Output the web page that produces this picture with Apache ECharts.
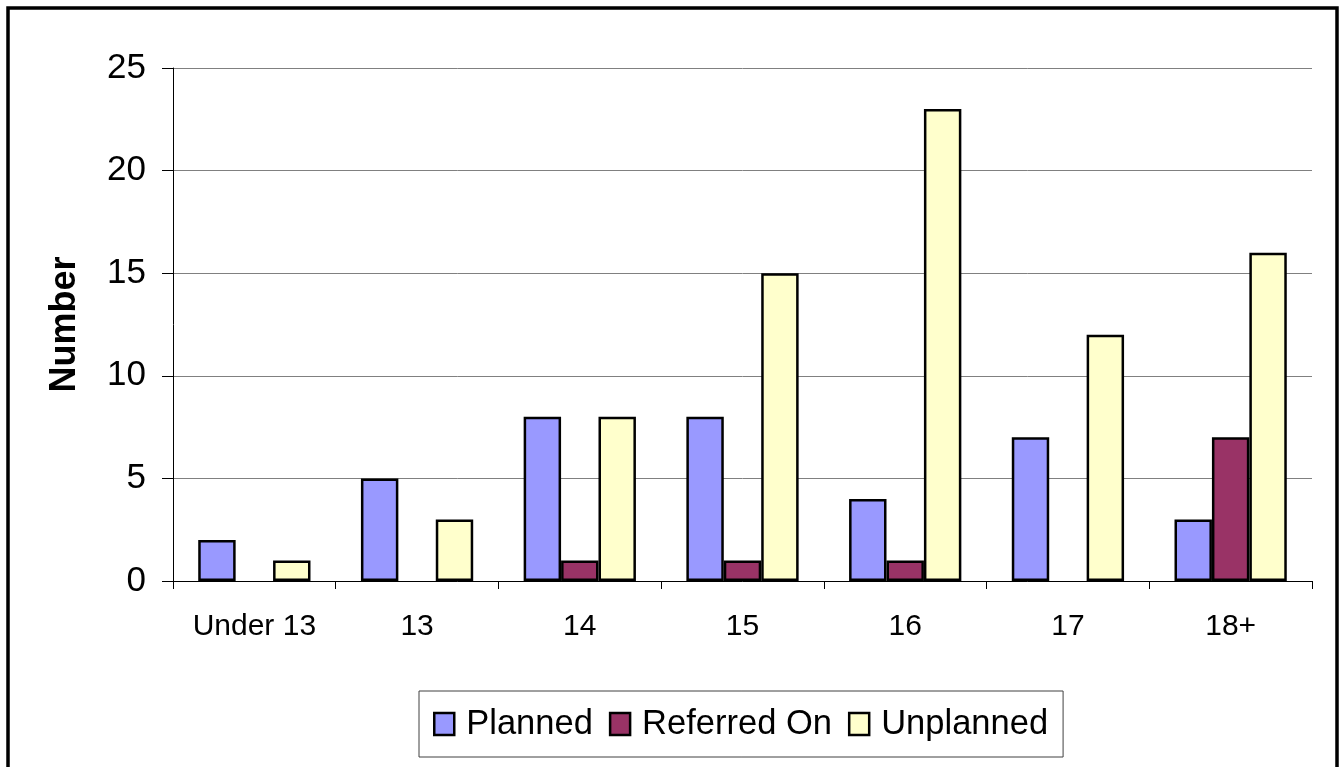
<!DOCTYPE html>
<html>
<head>
<meta charset="utf-8">
<script src="https://cdn.jsdelivr.net/npm/echarts@6/dist/echarts.min.js"></script>
<style>
html,body{margin:0;padding:0;background:#fff;}
#chart{width:1339px;height:767px;}
</style>
</head>
<body>
<div id="chart"></div>
<script>
const categories = ['Under 13', '13', '14', '15', '16', '17', '18+'];
const planned = [2, 5, 8, 8, 4, 7, 3];
const referredOn = [null, null, 1, 1, 1, null, 7];
const unplanned = [1, 3, 8, 15, 23, 12, 16];
const seriesNames = ['Planned', 'Referred On', 'Unplanned'];
const yTicks = [0, 5, 10, 15, 20, 25];

const FONT = '"Liberation Sans", Arial, Helvetica, sans-serif';
const chart = echarts.init(document.getElementById('chart'), null, {renderer: 'canvas'});

function barSeries(name, data, color) {
  return {
    name: name,
    type: 'bar',
    data: data,
    barGap: '0%',
    barCategoryGap: '31%',
    itemStyle: {color: color, borderColor: '#000', borderWidth: 2.5},
    emphasis: {disabled: true}
  };
}

chart.setOption({
  animation: false,
  backgroundColor: '#fff',
  grid: {left: 173, right: 27, top: 68, bottom: 186, containLabel: false},
  graphic: [{
    type: 'rect',
    shape: {x: 8, y: 8, width: 1329, height: 800},
    style: {fill: 'none', stroke: '#000', lineWidth: 3.5},
    silent: true,
    z: 100
  }],
  legend: {
    data: seriesNames,
    left: 419,
    top: 691,
    orient: 'horizontal',
    itemWidth: 20,
    itemHeight: 22,
    itemGap: 16,
    padding: [14, 15, 14, 14],
    borderColor: '#404040',
    borderWidth: 1,
    backgroundColor: '#fff',
    icon: 'rect',
    itemStyle: {borderColor: '#000', borderWidth: 2.5},
    textStyle: {fontFamily: FONT, fontSize: 34.5, color: '#000', padding: [0, 0, 0, 7], lineHeight: 38},
    selectedMode: false
  },
  xAxis: {
    type: 'category',
    data: categories,
    axisLine: {show: true, lineStyle: {color: '#000', width: 1}},
    axisTick: {show: true, length: 8, lineStyle: {color: '#000'}},
    axisLabel: {fontFamily: FONT, fontSize: 30, color: '#000', margin: 31},
    splitLine: {show: false}
  },
  yAxis: {
    type: 'value',
    min: yTicks[0],
    max: yTicks[yTicks.length - 1],
    interval: 5,
    name: 'Number',
    nameLocation: 'middle',
    nameGap: 90,
    nameTextStyle: {fontFamily: FONT, fontSize: 36, fontWeight: 'bold', color: '#000'},
    axisLine: {show: true, lineStyle: {color: '#000', width: 1}},
    axisTick: {show: true, length: 11, lineStyle: {color: '#000'}},
    axisLabel: {fontFamily: FONT, fontSize: 35, color: '#000', margin: 27},
    splitLine: {show: true, lineStyle: {color: '#808080', width: 1}}
  },
  series: [
    barSeries(seriesNames[0], planned, '#9999FF'),
    barSeries(seriesNames[1], referredOn, '#993366'),
    barSeries(seriesNames[2], unplanned, '#FFFFCC')
  ]
});
</script>
</body>
</html>
